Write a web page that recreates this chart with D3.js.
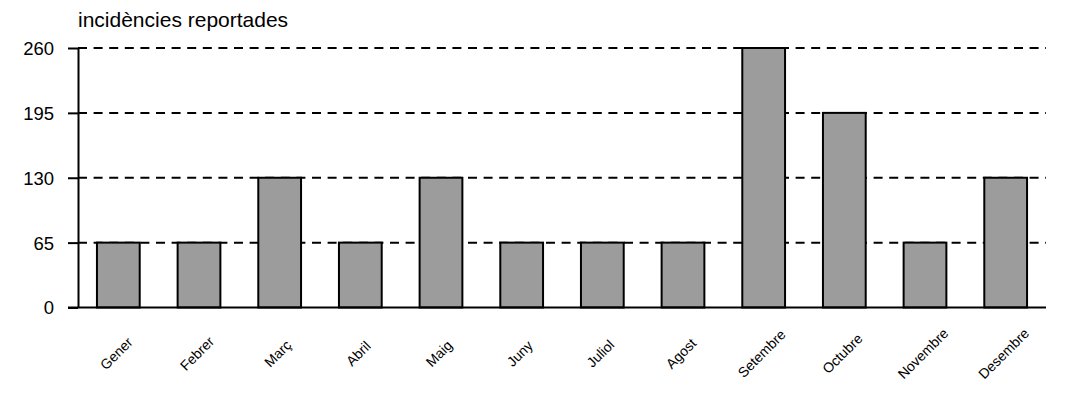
<!DOCTYPE html>
<html>
<head>
<meta charset="utf-8">
<script src="https://cdn.jsdelivr.net/npm/d3@7"></script>
<style>
  body { margin: 0; background: #fff; }
  svg text { font-family: "Liberation Sans", Arial, sans-serif; fill: #000; }
</style>
</head>
<body>
<div id="chart"></div>
<script>
var months = ["Gener", "Febrer", "Març", "Abril", "Maig", "Juny", "Juliol", "Agost",
              "Setembre", "Octubre", "Novembre", "Desembre"];
var incidencies = [65, 65, 130, 65, 130, 65, 65, 65, 260, 195, 65, 130];
var yTicks = [0, 65, 130, 195, 260];
var yTitle = "incidències reportades";

var width = 1080, height = 408;
var margin = {top: 48, right: 34, bottom: 100.5, left: 78};
var w = width - margin.left - margin.right;
var h = height - margin.top - margin.bottom;

var svg = d3.select("#chart")
    .append("svg")
    .attr("width", width)
    .attr("height", height)
    .append("g")
    .attr("transform", "translate(" + margin.left + "," + margin.top + ")");

var x = d3.scaleBand()
    .domain(months)
    .range([0, w])
    .paddingInner(0.47)
    .paddingOuter(0.235);

var y = d3.scaleLinear()
    .domain([0, 260])
    .range([h, 0]);

// dashed grid lines
svg.append("g")
    .attr("class", "grid")
    .selectAll("line")
    .data(yTicks.filter(function(d) { return d > 0; }))
    .enter()
    .append("line")
    .attr("x1", 0)
    .attr("x2", w)
    .attr("y1", function(d) { return y(d); })
    .attr("y2", function(d) { return y(d); })
    .attr("stroke", "#000")
    .attr("stroke-width", 2)
    .attr("stroke-dasharray", "9,6.6");

// bars
svg.selectAll("rect.bar")
    .data(incidencies)
    .enter()
    .append("rect")
    .attr("class", "bar")
    .attr("x", function(d, i) { return x(months[i]); })
    .attr("y", function(d) { return y(d); })
    .attr("width", x.bandwidth())
    .attr("height", function(d) { return h - y(d); })
    .attr("fill", "#9c9c9c")
    .attr("stroke", "#000")
    .attr("stroke-width", 2);

// y axis
var yAxis = svg.append("g")
    .call(d3.axisLeft(y).tickValues(yTicks).tickSize(10).tickPadding(14).tickSizeOuter(0));
yAxis.select(".domain").attr("stroke-width", 2);
yAxis.selectAll(".tick line").attr("stroke-width", 2);
yAxis.selectAll(".tick text")
    .attr("dy", "0.35em")
    .style("font-size", "18.5px");

// baseline
svg.append("line")
    .attr("x1", -10)
    .attr("x2", w)
    .attr("y1", y(0))
    .attr("y2", y(0))
    .attr("stroke", "#000")
    .attr("stroke-width", 2);

// x labels
svg.append("g")
    .selectAll("text")
    .data(months)
    .enter()
    .append("text")
    .attr("text-anchor", "middle")
    .attr("transform", function(d) {
        return "translate(" + (x(d) + x.bandwidth() / 2 + 1.5) + "," + (h + 49.5) + ") rotate(-45)";
    })
    .style("font-size", "14px")
    .text(function(d) { return d; });

// title
svg.append("text")
    .attr("x", 0)
    .attr("y", -21)
    .style("font-size", "21px")
    .text(yTitle);
</script>
</body>
</html>
